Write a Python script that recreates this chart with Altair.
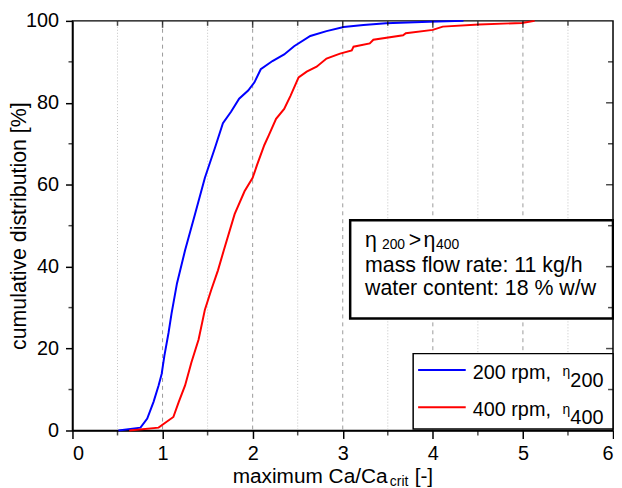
import altair as alt
import pandas as pd

# ---------------- data ----------------
series_names = ["200 rpm", "400 rpm"]
series_colors = ["#0000ff", "#ff0000"]

blue_x = [0.51, 0.755, 0.83, 0.90, 0.956, 0.99, 1.02, 1.066, 1.10, 1.16, 1.25, 1.36, 1.47,
          1.58, 1.67, 1.76, 1.85, 1.95, 2.02, 2.09, 2.22, 2.35, 2.46, 2.64, 2.82, 3.01,
          3.23, 3.48, 3.96, 4.34]
blue_y = [0, 0.7, 2.9, 7, 11, 13.8, 18.2, 23.8, 28.6, 35.9, 44, 52.8, 61.7,
          68.9, 75, 77.8, 81, 83, 85, 88.2, 90.2, 91.8, 93.8, 96.3, 97.5, 98.5,
          99, 99.4, 99.8, 100]

red_x = [0.63, 0.956, 1.03, 1.12, 1.18, 1.25, 1.32, 1.40, 1.47, 1.54, 1.615, 1.68, 1.80,
         1.91, 2.0, 2.05, 2.13, 2.18, 2.26, 2.35, 2.42, 2.51, 2.60, 2.71, 2.82, 2.97,
         3.10, 3.12, 3.30, 3.34, 3.67, 3.70, 4.0, 4.11, 4.51, 4.99, 5.13]
red_y = [0, 0.7, 1.9, 3.3, 7, 11, 16.6, 22.2, 29.5, 34.3, 39.1, 44, 52.8,
         58.4, 61.7, 64.9, 69.7, 72.1, 76.1, 78.5, 81.7, 86.2, 87.6, 88.8, 90.8, 92,
         92.8, 93.7, 94.5, 95.4, 96.5, 97, 97.8, 98.6, 99.1, 99.5, 100]

x_major = [0, 1, 2, 3, 4, 5, 6]
x_minor = [0.5, 1.5, 2.5, 3.5, 4.5, 5.5]
y_major = [0, 20, 40, 60, 80, 100]
y_minor = [10, 30, 50, 70, 90]
major_grid = [1, 2, 3, 4, 5]
minor_grid = [0.5, 1.5, 2.5, 3.5, 4.5, 5.5]

y_title = "cumulative distribution [%]"

# ---------------- layout ----------------
W, H = 545, 413
FONT = "Liberation Sans"

df = pd.DataFrame({
    "x": blue_x + red_x,
    "y": blue_y + red_y,
    "series": [series_names[0]] * len(blue_x) + [series_names[1]] * len(red_x),
})

xs = alt.Scale(domain=[0, 6], nice=False, zero=False)
ys = alt.Scale(domain=[0, 100], nice=False)

minor = alt.Chart(pd.DataFrame({"g": minor_grid})).mark_rule(
    color="#c4c4c4", strokeDash=[1, 2], strokeWidth=1
).encode(x=alt.X("g:Q", scale=xs, axis=None))

major = alt.Chart(pd.DataFrame({"g": major_grid})).mark_rule(
    color="#9a9a9a", strokeDash=[4, 4], strokeWidth=1
).encode(x=alt.X("g:Q", scale=xs, axis=None))

x_axis = alt.Axis(
    values=x_major, title=None, grid=False, tickSize=8,
    labelFontSize=20, labelFont=FONT, labelColor="black", tickColor="black",
    domainColor="black", tickWidth=1.5, domainWidth=1.5, labelPadding=5,
)
y_axis = alt.Axis(
    values=y_major, title=None, grid=False, tickSize=7,
    labelFontSize=20, labelFont=FONT, labelColor="black", tickColor="black",
    domainColor="black", tickWidth=1.5, domainWidth=1.5, labelPadding=7,
)

lines = alt.Chart(df).mark_line(strokeWidth=2).encode(
    x=alt.X("x:Q", scale=xs, axis=x_axis),
    y=alt.Y("y:Q", scale=ys, axis=y_axis),
    color=alt.Color("series:N", scale=alt.Scale(domain=series_names, range=series_colors),
                    legend=None),
)


def xticks(vals, size, center):
    return alt.Chart(pd.DataFrame({"t": vals})).mark_tick(
        color="black", thickness=1.5, size=size, orient="vertical"
    ).encode(x=alt.X("t:Q", scale=xs, axis=None), y=alt.value(center))


def yticks(vals, size, center):
    return alt.Chart(pd.DataFrame({"t": vals})).mark_tick(
        color="black", thickness=1.5, size=size, orient="horizontal"
    ).encode(y=alt.Y("t:Q", scale=ys, axis=None), x=alt.value(center))


tick_layers = [
    xticks(x_minor, 5, H + 2.5),            # bottom minor, outward
    yticks(y_minor, 4, -2),                 # left minor, outward
    xticks(x_major[1:-1], 7, 3.5),          # top major, inward
    xticks(x_minor, 5, 2.5),                # top minor, inward
    yticks(y_major[1:-1], 7, W - 3.5),      # right major, inward
    yticks(y_minor, 5, W - 2.5),            # right minor, inward
]

one = pd.DataFrame({"a": [0]})


def box(x1, y1, x2, y2, sw):
    return alt.Chart(one).mark_rect(fill="white", stroke="black", strokeWidth=sw).encode(
        x=alt.value(x1), x2=alt.value(x2), y=alt.value(y1), y2=alt.value(y2))


def txt(s, px, py, fs=20, angle=0, align="left"):
    return alt.Chart(pd.DataFrame({"t": [s]})).mark_text(
        align=align, baseline="alphabetic", font=FONT, fontSize=fs, color="black", angle=angle
    ).encode(x=alt.value(px), y=alt.value(py), text="t:N")


def legline(py, color):
    return alt.Chart(one).mark_rule(color=color, strokeWidth=2).encode(
        x=alt.value(348.5), x2=alt.value(396.5), y=alt.value(py))


note_box = box(280, 201, 545, 300, 2.5)
note = [
    txt("η", 295, 228, 21.5), txt("200", 312, 230, 14), txt(">", 339, 228, 21.5),
    txt("η", 354, 228, 21.5), txt("400", 366.5, 230, 14),
    txt("mass flow rate: 11 kg/h", 295, 253, 21.5),
    txt("water content: 18 % w/w", 295, 276, 21.5),
]

leg_box = box(343.5, 335.5, 545, 411.5, 1.5)
leg = [
    legline(352, series_colors[0]), legline(389.5, series_colors[1]),
    txt("200 rpm,", 403.5, 361, 20), txt("η", 494, 358, 14), txt("200", 502, 369, 20),
    txt("400 rpm,", 403.5, 398.5, 20), txt("η", 494, 396, 14), txt("400", 502, 406.5, 20),
]

titles = [
    txt("maximum Ca/Ca", 161.5, 465.5, 21), txt("crit", 320, 469, 14), txt("[-]", 345, 465.5, 21),
    txt(y_title, -46.5, 207, 21.5, angle=270, align="center"),
]

chart = alt.layer(
    minor, major, lines, note_box, *note, leg_box, *leg, *titles, *tick_layers,
).resolve_axis(x="independent", y="independent").properties(
    width=W, height=H,
    padding={"left": 65, "top": 11, "right": 1, "bottom": 56},
    autosize=alt.AutoSizeParams(type="none"),
    background="white",
).configure_view(stroke="black", strokeWidth=1.5)

chart.save("out.html", embed_options={"renderer": "svg", "actions": False})
